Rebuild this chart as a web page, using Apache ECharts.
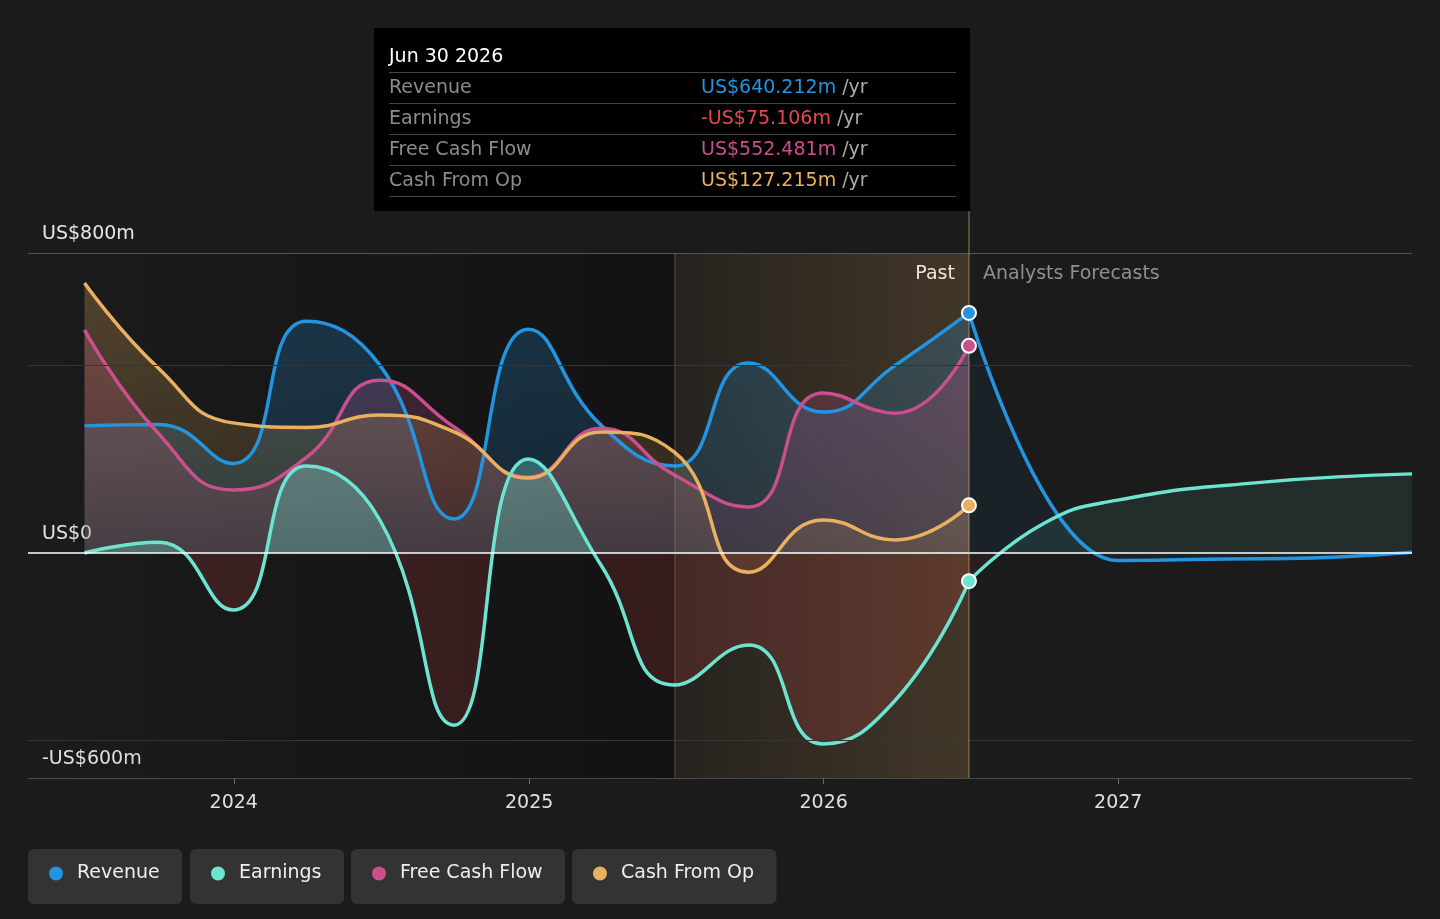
<!DOCTYPE html>
<html>
    <head>
        <meta charset="utf-8">
        <script src="https://cdn.jsdelivr.net/npm/echarts@6/dist/echarts.min.js"></script>
    </head>
    <body>
        <style>
            html, body, #main {
                width: 100%;
                height: 100%;
                margin: 0;
                background: #1b1b1b;
            }
        </style>
        <div id="main"></div>
        <script>

            // quarterly reported values, US$m
            var pastDates = ['2023-06-30', '2023-09-30', '2023-12-31', '2024-03-31', '2024-06-30',
                '2024-09-30', '2024-12-31', '2025-03-31', '2025-06-30', '2025-09-30',
                '2025-12-31', '2026-03-31', '2026-06-30'];
            var revenue = [339, 343, 239, 618, 501, 91, 597, 341, 232, 507, 376, 501, 640.212];
            var earnings = [0, 29, -152, 232, 88, -459, 251, -32, -352, -245, -509, -392, -75.106];
            var freeCashFlow = [595, 318, 168, 255, 461, 336, 203, 333, 208, 123, 427, 373, 552.481];
            var cashFromOp = [720, 492, 347, 335, 368, 323, 200, 323, 269, -51, 88, 35, 127.215];

            // analyst forecasts
            var revenueForecastDates = ['2026-06-30', '2026-12-31', '2027-06-30', '2027-12-31'];
            var revenueForecast = [640.212, -20, -15, 2];
            var earningsForecastDates = ['2026-06-30', '2026-09-30', '2026-12-31', '2027-06-30', '2027-12-31'];
            var earningsForecast = [-75.106, 78, 141, 189, 211];

            var yearTicks = ['2024-01-01', '2025-01-01', '2026-01-01', '2027-01-01'];
            var yLabelValues = [-600, 0, 800];
            var gridValues = [800, 500, -500];
            var bandStart = '2025-06-30';
            var bandEnd = '2026-06-30';

            var colors = {
                'Revenue': '#2394df',
                'Earnings': '#6de4d1',
                'Free Cash Flow': '#c94f8d',
                'Cash From Op': '#e9b15f'
            };
            var negColor = '#e5484d';

            var axisMin = '2023-04-21';
            var axisMax = '2027-12-31';
            var gridTop = 253;
            var gridBottom = 141;

            function ts(d) {
                return echarts.number.parseDate(d).getTime();
            }
            function pairs(dates, vals) {
                return dates.map(function (d, i) { return [ts(d), vals[i]]; });
            }
            function rgba(hex, a) {
                var n = parseInt(hex.slice(1), 16);
                return 'rgba(' + (n >> 16) + ',' + ((n >> 8) & 255) + ',' + (n & 255) + ',' + a + ')';
            }
            function vGrad(hex, a0, a1) {
                return new echarts.graphic.LinearGradient(0, 0, 0, 1, [
                    { offset: 0, color: rgba(hex, a0) },
                    { offset: 1, color: rgba(hex, a1) }
                ]);
            }
            // earnings: teal above zero, red below; zero sits at 800/1400 of the plot height
            function earningsGrad(a0, a1, aNeg) {
                var z = 800 / 1400;
                return new echarts.graphic.LinearGradient(0, gridTop, 0, 919 - gridBottom, [
                    { offset: 0, color: rgba(colors['Earnings'], a0) },
                    { offset: z, color: rgba(colors['Earnings'], a1) },
                    { offset: z, color: rgba(negColor, aNeg) },
                    { offset: 1, color: rgba(negColor, aNeg) }
                ], true);
            }
            function money(v) {
                return (v < 0 ? '-US$' : 'US$') + Math.abs(v).toFixed(3) + 'm';
            }

            var chart = echarts.init(document.getElementById('main'));

            var lineBase = {
                type: 'line',
                smooth: 0.5,
                symbol: 'none',
                lineStyle: { width: 3.5 },
                emphasis: { disabled: true }
            };

            var legendBoxes = [
                { name: 'Revenue', left: 28 },
                { name: 'Earnings', left: 190 },
                { name: 'Free Cash Flow', left: 351 },
                { name: 'Cash From Op', left: 572 }
            ];

            var last = pastDates.length - 1;
            var lastDate = pastDates[last];

            var tipRows = [
                ['Revenue', revenue[last]],
                ['Earnings', earnings[last]],
                ['Free Cash Flow', freeCashFlow[last]],
                ['Cash From Op', cashFromOp[last]]
            ];

            chart.setOption({
                animation: false,
                backgroundColor: '#1b1b1b',
                textStyle: { fontFamily: 'DejaVu Sans' },
                grid: { left: 28, right: 28, top: gridTop, bottom: gridBottom },
                legend: legendBoxes.map(function (b) {
                    return {
                        data: [b.name],
                        left: b.left,
                        top: 849,
                        backgroundColor: '#333',
                        borderRadius: 6,
                        padding: [15, 22.5, 21, 21],
                        itemWidth: 14,
                        itemHeight: 14,
                        icon: 'circle',
                        textStyle: { color: '#eee', fontSize: 19, padding: [0, 0, 0, 9] }
                    };
                }),
                tooltip: {
                    trigger: 'item',
                    triggerOn: 'none',
                    alwaysShowContent: true,
                    position: [374, 28],
                    backgroundColor: '#000',
                    borderWidth: 0,
                    padding: [14, 14, 14, 15],
                    transitionDuration: 0,
                    extraCssText: 'box-shadow:none;border-radius:0;',
                    formatter: function () {
                        var html = '<div style="font-family:\'DejaVu Sans\';width:567px;font-size:19px;">' +
                            '<div style="color:#fff;line-height:26px;padding-bottom:4px;">' +
                            echarts.time.format(ts(lastDate), '{MMM} {dd} {yyyy}') + '</div>';
                        tipRows.forEach(function (r, i) {
                            var c = r[1] < 0 ? negColor : colors[r[0]];
                            html += '<div style="border-top:1px solid #444;height:30px;line-height:26px;display:flex;' +
                                (i === tipRows.length - 1 ? 'border-bottom:1px solid #444;' : '') + '">' +
                                '<span style="width:312px;color:#8c8c8c;">' + r[0] + '</span>' +
                                '<span style="color:' + c + ';">' + money(r[1]) +
                                '</span><span style="color:#aaa;">&nbsp;/yr</span></div>';
                        });
                        return html + '</div>';
                    }
                },
                xAxis: {
                    type: 'value',
                    min: ts(axisMin),
                    max: ts(axisMax),
                    axisLine: { onZero: false, lineStyle: { color: '#4a4a4a', width: 1 } },
                    axisTick: { show: true, customValues: yearTicks.map(ts), length: 6, lineStyle: { color: '#666' } },
                    axisLabel: {
                        customValues: yearTicks.map(ts),
                        margin: 16,
                        color: '#e0e0e0',
                        fontSize: 19,
                        formatter: function (v) { return String(new Date(v).getFullYear()); }
                    },
                    splitLine: { show: false }
                },
                yAxis: {
                    type: 'value',
                    min: -600,
                    max: 800,
                    axisLine: { show: false },
                    axisTick: { show: false },
                    splitLine: { show: false },
                    axisLabel: {
                        customValues: yLabelValues,
                        inside: true,
                        margin: 14,
                        verticalAlign: 'bottom',
                        padding: [0, 0, 9, 0],
                        color: '#e6e6e6',
                        fontSize: 19,
                        formatter: function (v) {
                            if (v === 0) return 'US$0';
                            return (v < 0 ? '-US$' : 'US$') + Math.abs(v) + 'm';
                        }
                    }
                },
                series: [
                    {
                        name: 'backdrop',
                        type: 'line',
                        data: [],
                        z: 1,
                        markArea: {
                            silent: true,
                            itemStyle: {
                                color: new echarts.graphic.LinearGradient(0, 0, 1, 0, [
                                    { offset: 0, color: 'rgba(0,0,0,0)' },
                                    { offset: 1, color: 'rgba(0,0,0,0.32)' }
                                ])
                            },
                            data: [[{ xAxis: ts(axisMin) }, { xAxis: ts(bandStart) }]]
                        },
                        markLine: {
                            silent: true,
                            symbol: 'none',
                            label: { show: false },
                            data: gridValues.map(function (v) {
                                return { yAxis: v, lineStyle: { color: v === 800 ? '#555' : '#353535', width: 1, type: 'solid' } };
                            }).concat([{ yAxis: 0, lineStyle: { color: '#fff', width: 1.5, type: 'solid' } }])
                        }
                    },
                    Object.assign({}, lineBase, {
                        name: 'Revenue',
                        color: colors['Revenue'],
                        data: pairs(pastDates, revenue),
                        areaStyle: { color: vGrad(colors['Revenue'], 0.34, 0.2) }
                    }),
                    Object.assign({}, lineBase, {
                        name: 'Revenue',
                        color: colors['Revenue'],
                        smoothMonotone: 'x',
                        data: pairs(revenueForecastDates, revenueForecast),
                        areaStyle: { color: rgba(colors['Revenue'], 0.09) }
                    }),
                    Object.assign({}, lineBase, {
                        name: 'Free Cash Flow',
                        color: colors['Free Cash Flow'],
                        data: pairs(pastDates, freeCashFlow),
                        areaStyle: { color: vGrad(colors['Free Cash Flow'], 0.38, 0.18) }
                    }),
                    Object.assign({}, lineBase, {
                        name: 'Cash From Op',
                        color: colors['Cash From Op'],
                        data: pairs(pastDates, cashFromOp),
                        areaStyle: { color: vGrad(colors['Cash From Op'], 0.38, 0.14) }
                    }),
                    Object.assign({}, lineBase, {
                        name: 'Earnings',
                        color: colors['Earnings'],
                        data: pairs(pastDates, earnings),
                        areaStyle: { color: earningsGrad(0.55, 0.42, 0.24) }
                    }),
                    Object.assign({}, lineBase, {
                        name: 'Earnings',
                        color: colors['Earnings'],
                        data: pairs(earningsForecastDates, earningsForecast),
                        areaStyle: { color: earningsGrad(0.13, 0.13, 0.1) }
                    }),
                    {
                        name: 'band',
                        type: 'line',
                        data: [],
                        z: 3,
                        markArea: {
                            silent: true,
                            itemStyle: {
                                color: new echarts.graphic.LinearGradient(0, 0, 1, 0, [
                                    { offset: 0, color: 'rgba(233,177,95,0.05)' },
                                    { offset: 1, color: 'rgba(233,177,95,0.19)' }
                                ])
                            },
                            data: [[{ xAxis: ts(bandStart) }, { xAxis: ts(bandEnd) }]]
                        },
                        markLine: {
                            silent: true,
                            symbol: 'none',
                            label: { show: false },
                            data: [
                                { xAxis: ts(bandStart), lineStyle: { color: 'rgba(255,255,255,0.12)', width: 1.5, type: 'solid' } },
                                { xAxis: ts(bandEnd), lineStyle: { color: 'rgba(220,190,130,0.4)', width: 1.5, type: 'solid' } }
                            ]
                        }
                    },
                    {
                        name: 'endpoints',
                        type: 'scatter',
                        z: 5,
                        symbolSize: 14,
                        emphasis: { disabled: true },
                        itemStyle: { borderColor: '#fff', borderWidth: 2, opacity: 1 },
                        data: tipRows.map(function (r) {
                            return { value: [ts(lastDate), r[1]], itemStyle: { color: colors[r[0]] } };
                        })
                    }
                ]
            });

            // divider above the plot up to the tooltip, and the Past / Forecast captions
            var px = chart.convertToPixel({ gridIndex: 0 }, [ts(bandEnd), 800]);
            chart.setOption({
                graphic: [
                    {
                        type: 'line',
                        silent: true,
                        shape: { x1: px[0], y1: 210, x2: px[0], y2: px[1] },
                        style: { stroke: 'rgba(220,190,130,0.4)', lineWidth: 1.5 }
                    },
                    {
                        type: 'text',
                        silent: true,
                        x: px[0] - 14,
                        y: px[1] + 21,
                        style: {
                            text: 'Past', fill: '#f0f0f0', font: '19px "DejaVu Sans"',
                            align: 'right', verticalAlign: 'middle'
                        }
                    },
                    {
                        type: 'text',
                        silent: true,
                        x: px[0] + 14,
                        y: px[1] + 21,
                        style: {
                            text: 'Analysts Forecasts', fill: '#8f8f8f', font: '19px "DejaVu Sans"',
                            align: 'left', verticalAlign: 'middle'
                        }
                    }
                ]
            });

            chart.dispatchAction({ type: 'showTip', seriesIndex: 8, dataIndex: 0 });

        </script>
    </body>
</html>
